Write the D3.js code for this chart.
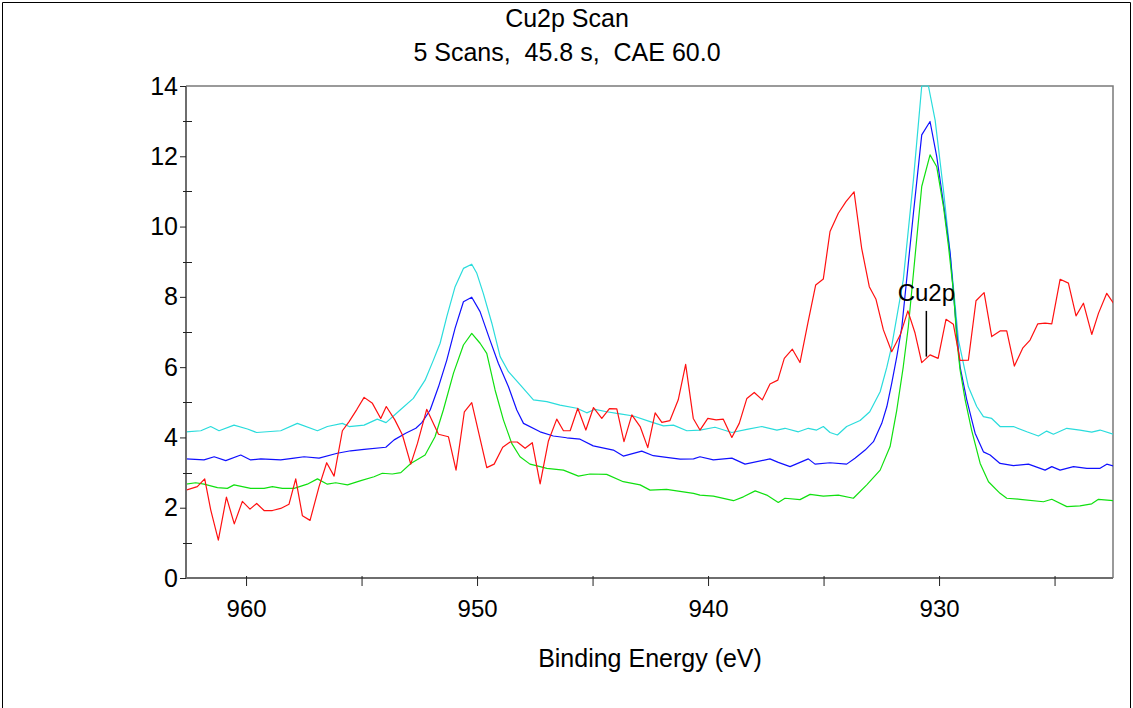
<!DOCTYPE html>
<html>
<head>
<meta charset="utf-8">
<script src="https://cdn.jsdelivr.net/npm/d3@7"></script>
<style>
  body { margin: 0; background: #fff; }
  svg { display: block; font-family: "Liberation Sans", Arial, sans-serif; }
</style>
</head>
<body>
<div id="chart"></div>
<script>
// Title text
const titleLines = ["Cu2p Scan", "5 Scans,  45.8 s,  CAE 60.0"];
const xLabel = "Binding Energy (eV)";
const markerEnergy = 930.55;
const markerLabel = "Cu2p";

// Axis ticks
const xMajorTicks = [960, 950, 940, 930];
const xAllTicks = [960, 955, 950, 945, 940, 935, 930, 925];
const yMajorTicks = [0, 2, 4, 6, 8, 10, 12, 14];
const yMinorTicks = [1, 3, 5, 7, 9, 11, 13];

// Cyan series
const cyanEnergy = [962.6, 961.96, 961.53, 961.17, 960.52, 959.94, 959.54, 958.5, 957.78, 956.91, 956.48, 955.83, 955.54, 954.89, 954.32, 953.94, 953.33, 952.76, 952.25, 951.89, 951.6, 951.31, 950.95, 950.59, 950.23, 950.01, 949.73, 949.36, 949.0, 948.64, 948.14, 947.56, 946.98, 946.41, 945.68, 945.25, 944.89, 944.39, 943.81, 943.23, 942.51, 941.93, 941.5, 940.92, 940.35, 939.7, 938.97, 938.32, 937.67, 937.02, 936.67, 936.09, 935.66, 935.3, 935.01, 934.72, 934.4, 934.0, 933.42, 933.0, 932.55, 932.26, 932.05, 931.55, 931.11, 930.75, 930.46, 930.17, 929.81, 929.52, 929.16, 928.73, 928.37, 928.08, 927.72, 927.36, 926.78, 926.2, 925.7, 925.34, 925.05, 924.47, 923.9, 923.39, 923.03, 922.46];
const cyanCounts = [4.16, 4.19, 4.31, 4.19, 4.35, 4.24, 4.14, 4.19, 4.40, 4.19, 4.31, 4.40, 4.31, 4.35, 4.52, 4.42, 4.78, 5.11, 5.63, 6.20, 6.68, 7.44, 8.29, 8.81, 8.93, 8.67, 8.10, 7.25, 6.30, 5.87, 5.50, 5.07, 5.02, 4.92, 4.83, 4.70, 4.80, 4.73, 4.67, 4.61, 4.45, 4.33, 4.35, 4.19, 4.21, 4.29, 4.14, 4.23, 4.31, 4.21, 4.26, 4.16, 4.26, 4.21, 4.31, 4.14, 4.07, 4.31, 4.48, 4.73, 5.30, 6.00, 6.60, 8.48, 11.33, 14.0, 14.0, 13.03, 11.04, 9.24, 6.77, 5.44, 4.88, 4.59, 4.54, 4.31, 4.31, 4.16, 4.04, 4.18, 4.09, 4.26, 4.21, 4.15, 4.21, 4.09];

// Blue series
const blueEnergy = [962.6, 961.82, 961.38, 960.88, 960.23, 959.8, 959.36, 958.5, 957.92, 957.49, 956.84, 956.05, 955.47, 954.89, 953.95, 953.59, 953.09, 952.65, 952.39, 952.03, 951.67, 951.31, 950.95, 950.59, 950.23, 949.87, 949.44, 949.08, 948.64, 948.28, 947.99, 947.27, 946.7, 946.12, 945.54, 944.97, 944.1, 943.67, 942.87, 942.37, 941.8, 941.21, 940.63, 940.35, 939.77, 938.97, 938.4, 937.32, 936.96, 936.45, 935.66, 935.37, 934.72, 934.0, 933.64, 933.2, 932.84, 932.48, 932.26, 932.05, 931.83, 931.61, 931.11, 930.75, 930.39, 930.1, 929.81, 929.52, 929.23, 929.09, 928.8, 928.44, 928.08, 927.79, 927.36, 926.78, 926.13, 925.41, 925.12, 924.76, 924.18, 923.6, 923.03, 922.74, 922.46];
const blueCounts = [3.39, 3.36, 3.45, 3.34, 3.50, 3.36, 3.39, 3.36, 3.41, 3.45, 3.41, 3.55, 3.62, 3.66, 3.72, 3.93, 4.12, 4.26, 4.42, 4.78, 5.44, 6.20, 7.11, 7.86, 7.99, 7.58, 6.77, 6.11, 5.44, 4.78, 4.40, 4.16, 4.04, 3.99, 3.95, 3.76, 3.64, 3.47, 3.61, 3.48, 3.43, 3.38, 3.39, 3.45, 3.36, 3.41, 3.24, 3.39, 3.29, 3.17, 3.39, 3.24, 3.28, 3.24, 3.41, 3.64, 3.88, 4.40, 4.88, 5.54, 6.30, 7.15, 10.38, 12.61, 12.99, 11.99, 10.66, 9.24, 6.96, 6.01, 5.07, 4.12, 3.59, 3.50, 3.26, 3.20, 3.24, 3.07, 3.17, 3.07, 3.17, 3.12, 3.12, 3.24, 3.19];

// Green series
const greenEnergy = [962.6, 962.18, 961.82, 961.24, 960.81, 960.52, 959.8, 959.22, 958.86, 958.43, 957.92, 957.35, 956.91, 956.48, 956.12, 955.61, 955.03, 954.46, 954.1, 953.67, 953.3, 952.87, 952.25, 951.82, 951.46, 951.02, 950.59, 950.23, 949.87, 949.58, 949.22, 948.86, 948.5, 948.14, 947.71, 947.27, 946.98, 946.26, 945.61, 945.11, 944.39, 943.67, 942.94, 942.51, 941.8, 940.63, 940.35, 939.77, 938.9, 938.47, 937.96, 937.46, 936.96, 936.67, 936.02, 935.58, 935.01, 934.36, 933.71, 933.13, 932.55, 932.12, 931.83, 931.55, 931.33, 930.75, 930.39, 930.1, 929.81, 929.59, 929.37, 929.23, 929.09, 928.87, 928.59, 928.22, 927.86, 927.36, 927.07, 926.49, 925.48, 925.12, 924.47, 923.9, 923.39, 923.1, 922.46];
const greenCounts = [2.67, 2.71, 2.67, 2.57, 2.55, 2.65, 2.55, 2.55, 2.60, 2.55, 2.55, 2.67, 2.82, 2.67, 2.71, 2.65, 2.77, 2.88, 2.98, 2.96, 3.00, 3.26, 3.50, 4.02, 4.78, 5.83, 6.63, 6.96, 6.68, 6.39, 5.35, 4.50, 3.83, 3.45, 3.24, 3.17, 3.12, 3.07, 2.90, 2.96, 2.95, 2.74, 2.65, 2.50, 2.52, 2.41, 2.36, 2.33, 2.20, 2.31, 2.48, 2.36, 2.15, 2.27, 2.23, 2.38, 2.33, 2.36, 2.27, 2.65, 3.07, 3.74, 4.78, 6.01, 7.15, 11.14, 12.04, 11.70, 10.57, 9.43, 8.10, 6.77, 5.92, 5.07, 4.21, 3.26, 2.74, 2.41, 2.27, 2.24, 2.17, 2.24, 2.03, 2.05, 2.11, 2.24, 2.20];

// Red series
const redEnergy = [962.6, 962.11, 961.79, 961.53, 961.2, 960.85, 960.51, 960.16, 959.83, 959.54, 959.22, 958.86, 958.5, 958.14, 957.85, 957.56, 957.23, 956.84, 956.51, 956.19, 955.83, 955.54, 955.2, 954.89, 954.53, 954.17, 953.93, 953.56, 953.23, 952.87, 952.58, 952.18, 951.67, 951.24, 950.91, 950.55, 950.23, 949.58, 949.26, 948.89, 948.57, 948.26, 947.92, 947.61, 947.27, 946.91, 946.55, 946.26, 945.97, 945.64, 945.29, 944.96, 944.6, 944.27, 943.95, 943.64, 943.3, 942.94, 942.61, 942.29, 942.0, 941.65, 941.29, 940.97, 940.64, 940.35, 940.01, 939.65, 939.34, 938.97, 938.65, 938.32, 938.0, 937.65, 937.32, 936.98, 936.7, 936.35, 936.02, 935.68, 935.34, 935.01, 934.72, 934.36, 934.03, 933.68, 933.35, 933.02, 932.73, 932.41, 932.05, 931.68, 931.35, 931.04, 930.75, 930.39, 930.04, 929.7, 929.38, 929.09, 928.73, 928.4, 928.05, 927.72, 927.36, 927.07, 926.74, 926.38, 926.06, 925.73, 925.41, 925.12, 924.76, 924.4, 924.07, 923.75, 923.39, 923.1, 922.74, 922.45];
const redCounts = [2.50, 2.60, 2.82, 1.94, 1.08, 2.30, 1.54, 2.18, 1.96, 2.12, 1.92, 1.92, 1.98, 2.10, 2.82, 1.77, 1.64, 2.60, 3.28, 2.90, 4.19, 4.45, 4.80, 5.14, 4.97, 4.54, 4.88, 4.50, 4.07, 3.24, 3.83, 4.80, 4.09, 4.02, 3.07, 4.73, 4.99, 3.14, 3.24, 3.72, 3.87, 3.87, 3.69, 3.85, 2.68, 3.90, 4.52, 4.19, 4.19, 4.83, 4.21, 4.85, 4.54, 4.82, 4.81, 3.88, 4.64, 4.31, 3.71, 4.70, 4.43, 4.48, 5.07, 6.08, 4.54, 4.21, 4.54, 4.50, 4.52, 4.00, 4.40, 5.11, 5.28, 5.07, 5.52, 5.63, 6.25, 6.51, 6.13, 7.25, 8.34, 8.51, 9.86, 10.38, 10.71, 10.99, 9.38, 8.29, 7.93, 7.06, 6.44, 6.92, 7.60, 6.97, 6.13, 6.35, 6.25, 7.36, 7.22, 6.19, 6.20, 7.89, 8.12, 6.87, 7.03, 7.03, 6.03, 6.54, 6.77, 7.23, 7.25, 7.23, 8.50, 8.39, 7.46, 7.82, 6.93, 7.53, 8.10, 7.82];

const series = [
    { name: "cyan", energy: cyanEnergy, counts: cyanCounts, color: "#2adcdc" },
    { name: "blue", energy: blueEnergy, counts: blueCounts, color: "#1010ff" },
    { name: "green", energy: greenEnergy, counts: greenCounts, color: "#10e010" },
    { name: "red", energy: redEnergy, counts: redCounts, color: "#ff1010" }
];

const width = 1133, height = 708;
const plot = { left: 186, right: 1113, top: 86, bottom: 578 };

const svg = d3.select("#chart")
    .append("svg")
    .attr("width", width)
    .attr("height", height);

// outer frame
svg.append("path")
    .attr("d", `M2.5,${height}V2.5H1130.5V${height}`)
    .attr("fill", "none")
    .attr("stroke", "#000")
    .attr("stroke-width", 1);

const x = d3.scaleLinear()
    .domain([962.6, 922.47])
    .range([plot.left, plot.right]);

const y = d3.scaleLinear()
    .domain([0, 14])
    .range([plot.bottom, plot.top]);

// titles
svg.selectAll(".title")
    .data(titleLines)
    .enter()
    .append("text")
    .attr("class", "title")
    .attr("x", 567)
    .attr("y", (d, i) => 27 + i * 34)
    .attr("text-anchor", "middle")
    .style("font-size", "25px")
    .style("white-space", "pre")
    .attr("fill", "#000")
    .text(d => d);

// clip for the spectra
svg.append("clipPath")
    .attr("id", "plot-clip")
    .append("rect")
    .attr("x", plot.left)
    .attr("y", plot.top - 1)
    .attr("width", plot.right - plot.left)
    .attr("height", plot.bottom - plot.top + 1);

// plot frame top + right
svg.append("path")
    .attr("d", `M${plot.left},${plot.top}H${plot.right}V${plot.bottom}`)
    .attr("fill", "none")
    .attr("stroke", "#7a7a7a")
    .attr("stroke-width", 1.5);

const lineGen = d3.line()
    .x(d => x(d[0]))
    .y(d => y(d[1]));

const lines = svg.append("g").attr("clip-path", "url(#plot-clip)");
series.forEach(s => {
    const pts = s.energy.map((e, i) => [e, s.counts[i]]);
    lines.append("path")
        .datum(pts)
        .attr("fill", "none")
        .attr("stroke", s.color)
        .attr("stroke-width", 1.2)
        .attr("stroke-linejoin", "round")
        .attr("d", lineGen);
});

// x axis
const xAxis = svg.append("g")
    .attr("transform", `translate(0,${plot.bottom})`)
    .call(d3.axisBottom(x)
        .tickValues(xAllTicks)
        .tickSizeInner(8)
        .tickSizeOuter(0)
        .tickPadding(14)
        .tickFormat(d => xMajorTicks.includes(d) ? d : ""));
xAxis.select(".domain")
    .attr("stroke", "#6e6e6e")
    .attr("stroke-width", 2)
    .attr("d", `M${plot.left},0H${plot.right}`);
xAxis.selectAll(".tick line")
    .attr("y1", -2)
    .attr("stroke", "#222");
xAxis.selectAll(".tick text")
    .style("font-size", "24px")
    .style("font-family", "'Liberation Sans', Arial, sans-serif")
    .attr("fill", "#000");

// y axis (major)
const yAxis = svg.append("g")
    .attr("transform", `translate(${plot.left},0)`)
    .call(d3.axisLeft(y)
        .tickValues(yMajorTicks)
        .tickSizeInner(6)
        .tickSizeOuter(0)
        .tickPadding(2)
        .tickFormat(d3.format("d")));
yAxis.select(".domain")
    .attr("stroke", "#6e6e6e")
    .attr("stroke-width", 2)
    .attr("d", `M0,${plot.top}V${plot.bottom + 1}`);
yAxis.selectAll(".tick line").attr("stroke", "#222");
yAxis.selectAll(".tick text")
    .style("font-size", "25px")
    .style("font-family", "'Liberation Sans', Arial, sans-serif")
    .attr("fill", "#000");

// y minor ticks
svg.append("g")
    .selectAll("line")
    .data(yMinorTicks)
    .enter()
    .append("line")
    .attr("x1", plot.left - 3)
    .attr("x2", plot.left + 6)
    .attr("y1", d => Math.round(y(d)) + 0.5)
    .attr("y2", d => Math.round(y(d)) + 0.5)
    .attr("stroke", "#222");

// x axis title
svg.append("text")
    .attr("x", 650)
    .attr("y", 667)
    .attr("text-anchor", "middle")
    .style("font-size", "25px")
    .attr("fill", "#000")
    .text(xLabel);

// peak marker
svg.append("line")
    .attr("x1", x(markerEnergy))
    .attr("x2", x(markerEnergy))
    .attr("y1", y(7.6))
    .attr("y2", y(6.3))
    .attr("stroke", "#000")
    .attr("stroke-width", 1.5);
svg.append("text")
    .attr("x", x(markerEnergy))
    .attr("y", y(7.6) - 10)
    .attr("text-anchor", "middle")
    .style("font-size", "24px")
    .attr("fill", "#000")
    .text(markerLabel);
</script>
</body>
</html>
